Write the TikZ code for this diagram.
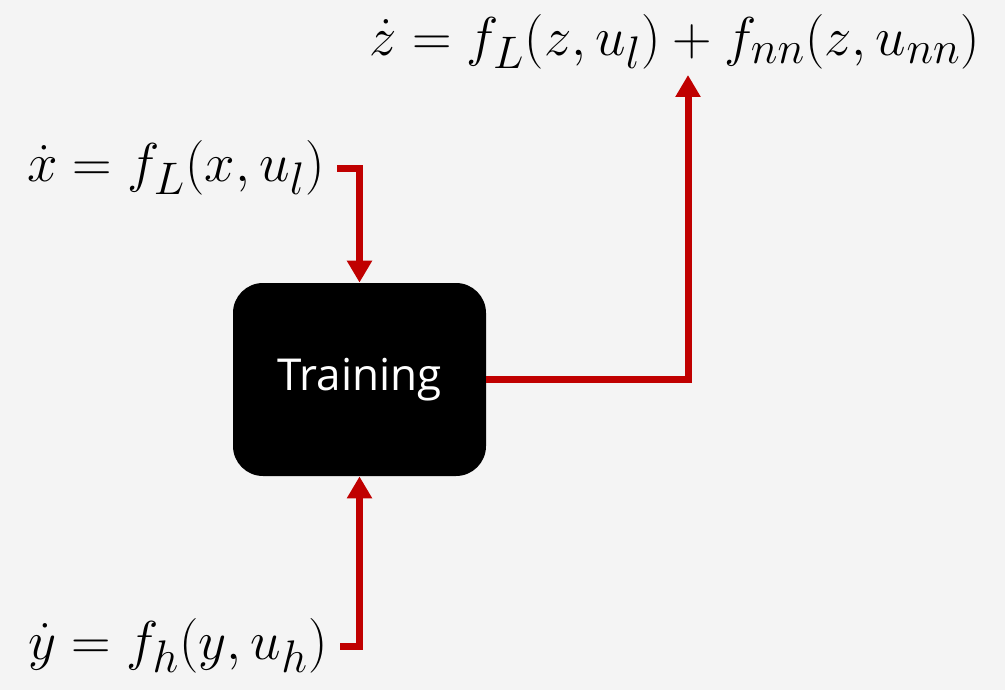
\documentclass[tikz,border=0pt]{standalone}
\usepackage{amsmath,amssymb}
\usepackage{fontspec}
\setsansfont{Open Sans}
\usepackage{xcolor}
\usetikzlibrary{positioning,arrows.meta,calc}
\definecolor{bgray}{HTML}{F4F4F4}
\definecolor{flowred}{HTML}{C00000}
\newcommand{\eqtext}[1]{\scalebox{1.1}{$#1$}}

\begin{document}
\begin{tikzpicture}[x=0.5pt, y=-0.5pt, >=Stealth,
  eqn/.style={inner sep=6pt, font=\fontsize{31}{36}\selectfont},
  trainbox/.style={fill=black, rounded corners=15pt, minimum width=126.5pt, minimum height=96.5pt,
    text=white, font=\sffamily\fontsize{22}{26}\selectfont},
  flow/.style={draw=flowred, line width=3.5pt, -{Triangle[width=12pt,length=11pt]}}]
\useasboundingbox[fill=bgray] (0,0) rectangle (1005,690);
\node[trainbox] (train) at (359.5,379.5) {Training};
\node[eqn, anchor=east] (xeq) at (337,168) {\eqtext{\dot{x} = f_L(x,u_l)}};
\node[eqn, anchor=east] (yeq) at (340,646) {\eqtext{\dot{y} = f_h(y,u_h)}};
\node[eqn] (zeq) at (675,42) {\eqtext{\dot{z} = f_L(z,u_l) + f_{nn}(z,u_{nn})}};
\coordinate (ztip) at (688,75);
\draw[flow] (xeq.east) -| (train.north);
\draw[flow] (yeq.east) -| (train.south);
\draw[flow] (train.east) -| (ztip);
\end{tikzpicture}
\end{document}
